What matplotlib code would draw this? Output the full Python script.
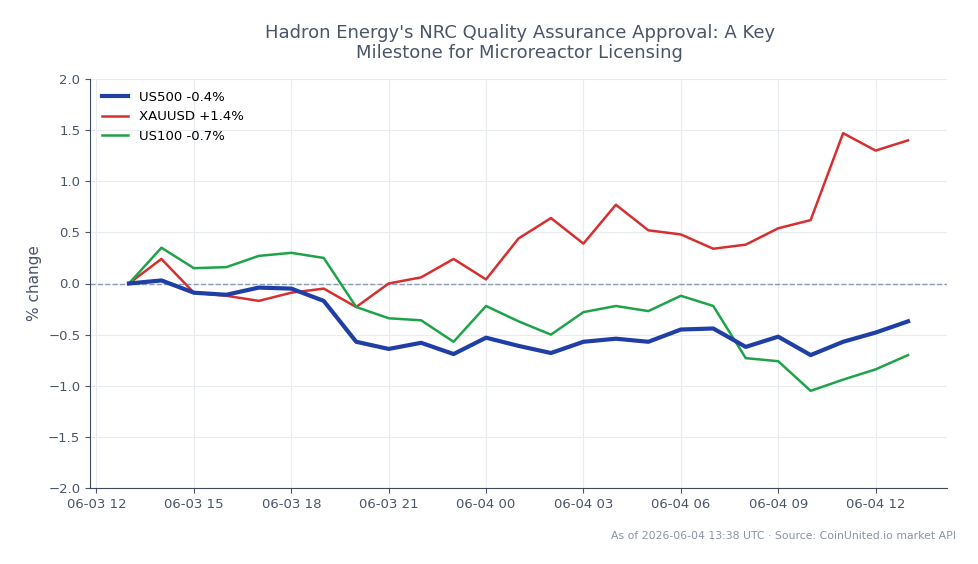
import matplotlib
matplotlib.use("Agg")
import matplotlib.pyplot as plt
import matplotlib.dates as mdates
import pandas as pd

times = pd.date_range("2026-06-03 13:00", "2026-06-04 13:00", freq="h")

us500 = [0.0, 0.03, -0.09, -0.11, -0.04, -0.05, -0.17, -0.57, -0.64, -0.58,
         -0.69, -0.53, -0.61, -0.68, -0.57, -0.54, -0.57, -0.45, -0.44, -0.62,
         -0.52, -0.70, -0.57, -0.48, -0.37]
xauusd = [0.0, 0.24, -0.09, -0.12, -0.17, -0.09, -0.05, -0.23, 0.0, 0.06,
          0.24, 0.04, 0.44, 0.64, 0.39, 0.77, 0.52, 0.48, 0.34, 0.38,
          0.54, 0.62, 1.47, 1.30, 1.40]
us100 = [0.0, 0.35, 0.15, 0.16, 0.27, 0.30, 0.25, -0.23, -0.34, -0.36,
         -0.57, -0.22, -0.37, -0.50, -0.28, -0.22, -0.27, -0.12, -0.22, -0.73,
         -0.76, -1.05, -0.94, -0.84, -0.70]

title = "Hadron Energy's NRC Quality Assurance Approval: A Key\nMilestone for Microreactor Licensing"
footer = "As of 2026-06-04 13:38 UTC · Source: CoinUnited.io market API"

text_c = "#4a5568"
fig = plt.figure(figsize=(9.79, 5.64), dpi=100)
ax = fig.add_axes([90 / 979, 1 - 488 / 564, (947 - 90) / 979, (488 - 79) / 564])

ax.plot(times, us500, color="#1f3fa6", lw=3, label="US500 -0.4%", zorder=4)
ax.plot(times, xauusd, color="#d62f2f", lw=1.8, label="XAUUSD +1.4%", zorder=3)
ax.plot(times, us100, color="#1fa34a", lw=1.8, label="US100 -0.7%", zorder=3)
ax.axhline(0, color="#8a9bb5", lw=1, ls="--", zorder=1)

ax.set_ylim(-2.0, 2.0)
ax.set_yticks([-2.0, -1.5, -1.0, -0.5, 0.0, 0.5, 1.0, 1.5, 2.0])
ax.yaxis.set_major_formatter(plt.FuncFormatter(lambda v, p: f"{v:.1f}".replace("-", "\u2212")))
ax.xaxis.set_major_locator(mdates.HourLocator(byhour=range(0, 24, 3)))
ax.xaxis.set_major_formatter(mdates.DateFormatter("%m-%d %H"))

ax.grid(True, color="#e8ebf0", lw=0.8)
ax.set_axisbelow(True)
for s in ["top", "right"]:
    ax.spines[s].set_visible(False)
for s in ["left", "bottom"]:
    ax.spines[s].set_color("#3d4a5c")
ax.tick_params(colors=text_c, labelsize=9.5)
ax.set_ylabel("% change", color=text_c, fontsize=11)

ax.legend(loc="upper left", frameon=False, fontsize=9.5)
fig.suptitle(title, x=0.531, y=0.958, fontsize=13, color=text_c)
fig.text(0.976, 0.045, footer, ha="right", fontsize=7.8, color="#8a94a3")

fig.savefig("out.png", dpi=100)
